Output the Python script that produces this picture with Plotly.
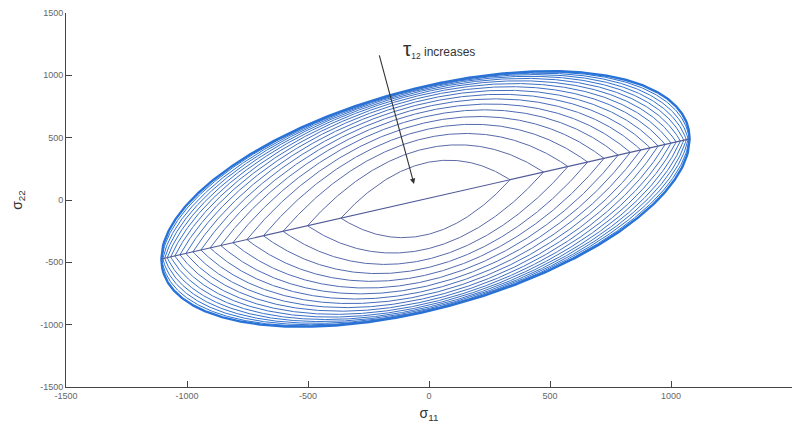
import numpy as np
import plotly.graph_objects as go

# ---- data ----
tip_left = [-1106, -473]      # (sigma11, sigma22) of left tip of the envelope
tip_right = [1077, 490]       # (sigma11, sigma22) of right tip of the envelope
half_height = 905             # vertical half-height of the tau12 = 0 envelope
S12 = 95                      # shear strength
tau12_levels = [0, 5, 10, 15, 20, 25, 30, 35, 40, 45, 50, 55, 60, 65, 70, 75, 80, 85, 90]
x_ticks = [-1500, -1000, -500, 0, 500, 1000, 1500]
y_ticks = [-1500, -1000, -500, 0, 500, 1000, 1500]
arrow_tail = [-207, 1172]
arrow_head = [-62, 128]
label_pos = [40, 1212]

xl, yl = tip_left
xr, yr = tip_right
x0 = 0.5 * (xl + xr)
W = 0.5 * (xr - xl)
slope = (yr - yl) / (xr - xl)

fig = go.Figure()

c_out = np.array([40, 115, 215])
c_in = np.array([95, 105, 165])
n = len(tau12_levels)
u = np.linspace(-1, 1, 601)
for k, tau in enumerate(tau12_levels):
    r = np.sqrt(1 - (tau / S12) ** 2)
    q = r ** 2
    if q > 0.999:
        L = np.sqrt(np.clip(1 - u ** 2, 0, None))
    else:
        L = (np.sqrt(1 - q * u ** 2) - np.sqrt(1 - q)) / (1 - np.sqrt(1 - q))
    s = r * u
    x = x0 + W * s
    m = yl + slope * (x - xl)
    up = m + half_height * r * L
    lo = m - half_height * r * L
    xs = np.concatenate([x, x[::-1]])
    ys = np.concatenate([up, lo[::-1]])
    t = k / (n - 1)
    col = (1 - t) * c_out + t * c_in
    fig.add_trace(go.Scatter(
        x=xs, y=ys, mode="lines",
        line=dict(color="rgb(%d,%d,%d)" % tuple(col.astype(int)), width=2.4 if k == 0 else 1.0),
        showlegend=False, hoverinfo="skip"))

fig.add_trace(go.Scatter(
    x=[xl, xr], y=[yl, yr], mode="lines",
    line=dict(color="rgb(80,90,150)", width=1.1),
    showlegend=False, hoverinfo="skip"))

fig.add_annotation(
    x=arrow_head[0], y=arrow_head[1], ax=arrow_tail[0], ay=arrow_tail[1],
    xref="x", yref="y", axref="x", ayref="y", text="",
    showarrow=True, arrowhead=2, arrowsize=1, arrowwidth=1.1, arrowcolor="#333")
fig.add_annotation(
    x=label_pos[0], y=label_pos[1], xref="x", yref="y",
    text="<span style='font-size:21px'>τ</span><span style='font-size:12px'><sub>12</sub></span> increases",
    showarrow=False, font=dict(family="Liberation Sans", size=12, color="#333"))

axis_common = dict(
    showline=True, linecolor="#444", linewidth=1, ticks="inside", ticklen=6,
    tickcolor="#444", showgrid=False, zeroline=False, mirror=False,
    tickfont=dict(family="Liberation Sans", size=9, color="#666"))

fig.update_xaxes(range=[-1500, 1500], tickvals=x_ticks, ticktext=[str(v) for v in x_ticks],
                 title=dict(text="σ<sub>11</sub>", font=dict(family="Liberation Sans", size=14, color="#333"), standoff=8),
                 **axis_common)
fig.update_yaxes(range=[-1500, 1500], tickvals=y_ticks, ticktext=[str(v) for v in y_ticks],
                 title=dict(text="σ<sub>22</sub>", font=dict(family="Liberation Sans", size=14, color="#333"), standoff=14),
                 **axis_common)

fig.update_layout(
    width=792, height=425,
    margin=dict(l=66, r=0, t=13, b=38, autoexpand=False),
    paper_bgcolor="white", plot_bgcolor="white",
)

fig.write_html("out.html")
